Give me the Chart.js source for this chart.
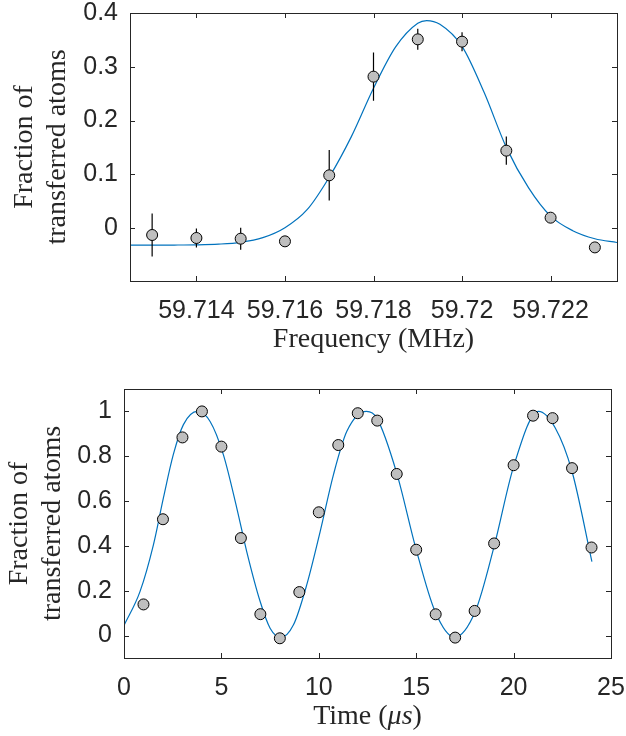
<!DOCTYPE html>
<html>
<head>
<meta charset="utf-8">
<script src="https://cdn.jsdelivr.net/npm/chart.js@4.4.0/dist/chart.umd.min.js"></script>
<style>
  html, body { margin: 0; padding: 0; background: #fff; }
  #wrap { position: relative; width: 626px; height: 736px; }
  canvas { position: absolute; left: 0; display: block; }
  #freqChart { top: 0; }
  #timeChart { top: 365px; }
</style>
</head>
<body>
<div id="wrap">
  <canvas id="freqChart" width="626" height="365"></canvas>
  <canvas id="timeChart" width="626" height="371"></canvas>
</div>
<script>
"use strict";

// top panel: frequency scan with error bars
const freqMHz = [59.713, 59.714, 59.715, 59.716, 59.717, 59.718, 59.719, 59.720, 59.721, 59.722, 59.723];
const freqFraction = [-0.013, -0.0186, -0.0199, -0.0248, 0.098, 0.2816, 0.351, 0.3467, 0.1439, 0.0192, -0.0361];
const freqError = [0.040, 0.0177, 0.0205, 0.006, 0.047, 0.0447, 0.0195, 0.0177, 0.0264, 0.006, 0.004];
const fitFreqMHz = [59.7125, 59.7130, 59.7135, 59.7140, 59.7145, 59.7150, 59.7155, 59.7160, 59.7165, 59.7170,
  59.7175, 59.7180, 59.7185, 59.7190, 59.7192, 59.7195, 59.7200, 59.7205, 59.7210, 59.7215,
  59.7220, 59.7225, 59.7230, 59.7235];
const fitFreqFraction = [-0.0318, -0.0318, -0.0317, -0.0313, -0.0300, -0.0266, -0.0180, 0.0005, 0.0340, 0.0945,
  0.1700, 0.2600, 0.3370, 0.3810, 0.3860, 0.3790, 0.3380, 0.2520, 0.1500, 0.0750,
  0.0220, -0.0050, -0.0200, -0.0270];
const freqTicks = [59.714, 59.716, 59.718, 59.72, 59.722];
const freqFractionTicks = [0, 0.1, 0.2, 0.3, 0.4];

// bottom panel: Rabi oscillation
const timeUs = [1, 2, 3, 4, 5, 6, 7, 8, 9, 10, 11, 12, 13, 14, 15, 16, 17, 18, 19, 20, 21, 22, 23, 24];
const timeFraction = [0.139, 0.519, 0.884, 1.0, 0.843, 0.435, 0.0955, -0.012, 0.194, 0.55, 0.85, 0.992,
  0.959, 0.721, 0.383, 0.095, -0.009, 0.11, 0.411, 0.76, 0.981, 0.97, 0.747, 0.393];
const fitTimeUs = [0, 0.82, 1.51, 2.02, 2.53, 3.05, 3.77, 4.42, 5.1, 5.79, 6.3, 6.99, 7.5, 8.05, 8.7,
  9.38, 10.07, 10.75, 11.44, 12.45, 12.98, 14.0, 14.98, 15.97, 16.97, 18.03, 19.02, 20.0,
  21.28, 22.14, 23.0, 24.02];
const fitTimeFraction = [0.045, 0.196, 0.405, 0.613, 0.807, 0.941, 1.0, 0.955, 0.807, 0.569, 0.375, 0.152,
  0.033, -0.008, 0.048, 0.226, 0.464, 0.717, 0.911, 1.0, 0.97, 0.725, 0.39, 0.107, -0.008,
  0.107, 0.405, 0.754, 1.0, 0.926, 0.732, 0.33];
const timeTicks = [0, 5, 10, 15, 20, 25];
const timeFractionTicks = [0, 0.2, 0.4, 0.6, 0.8, 1];

const yTitleLines = ["Fraction of", "transferred atoms"];

const TEXT = "#262626";
const SANS = "'Liberation Sans', Arial, Helvetica, sans-serif";
const SERIF = "'Liberation Serif', 'Times New Roman', serif";

function fmt(v) {
  return String(Number(v.toFixed(4)));
}

function toPoints(xs, ys) {
  return xs.map((x, i) => ({ x, y: ys[i] }));
}

// box around the plot with inward ticks on all four sides
const frameTicks = {
  id: "frameTicks",
  afterDraw(chart) {
    const { ctx, chartArea: a, scales: { x, y } } = chart;
    const len = 5;
    ctx.save();
    ctx.strokeStyle = TEXT;
    ctx.lineWidth = 1;
    ctx.beginPath();
    x.ticks.forEach(t => {
      const px = Math.round(x.getPixelForValue(t.value)) + 0.5;
      ctx.moveTo(px, a.bottom); ctx.lineTo(px, a.bottom - len);
      ctx.moveTo(px, a.top); ctx.lineTo(px, a.top + len);
    });
    y.ticks.forEach(t => {
      const py = Math.round(y.getPixelForValue(t.value)) + 0.5;
      ctx.moveTo(a.left, py); ctx.lineTo(a.left + len, py);
      ctx.moveTo(a.right, py); ctx.lineTo(a.right - len, py);
    });
    ctx.stroke();
    ctx.strokeRect(Math.round(a.left) + 0.5, Math.round(a.top) + 0.5,
      Math.round(a.right - a.left), Math.round(a.bottom - a.top));
    ctx.restore();
  }
};

// vertical error bars, drawn just before the marker dataset
const errorBars = {
  id: "errorBars",
  beforeDatasetDraw(chart, args) {
    const ds = chart.data.datasets[args.index];
    if (!ds.errors) return;
    const { ctx, scales: { x, y } } = chart;
    ctx.save();
    ctx.strokeStyle = "#000";
    ctx.lineWidth = 1.2;
    ctx.beginPath();
    ds.data.forEach((p, i) => {
      const px = x.getPixelForValue(p.x);
      ctx.moveTo(px, y.getPixelForValue(p.y - ds.errors[i]));
      ctx.lineTo(px, y.getPixelForValue(p.y + ds.errors[i]));
    });
    ctx.stroke();
    ctx.restore();
  }
};

// x axis title with mixed upright / italic parts
function makeXTitle(parts, lift) {
  return {
    id: "xTitle",
    afterDraw(chart) {
      const { ctx, chartArea: a, scales: { x } } = chart;
      ctx.save();
      ctx.fillStyle = TEXT;
      ctx.textBaseline = "alphabetic";
      ctx.textAlign = "left";
      const fonts = parts.map(p => `${p.italic ? "italic " : ""}28px ${SERIF}`);
      const widths = parts.map((p, i) => { ctx.font = fonts[i]; return ctx.measureText(p.text).width; });
      let cx = (a.left + a.right) / 2 - widths.reduce((s, w) => s + w, 0) / 2;
      const cy = x.bottom - lift;
      parts.forEach((p, i) => {
        ctx.font = fonts[i];
        ctx.fillText(p.text, cx, cy);
        cx += widths[i];
      });
      ctx.restore();
    }
  };
}

function makePanel(p) {
  const tickFont = { family: SANS, size: 25 };
  return new Chart(document.getElementById(p.canvas), {
    type: "scatter",
    data: {
      datasets: [
        {
          label: "data",
          data: toPoints(p.xs, p.ys),
          errors: p.errors,
          pointRadius: 5.5,
          pointBackgroundColor: "#bfbfbf",
          pointBorderColor: "#000",
          pointBorderWidth: 1
        },
        {
          label: "fit",
          type: "line",
          data: toPoints(p.fitX, p.fitY),
          borderColor: "#0072bd",
          borderWidth: 1.2,
          pointRadius: 0,
          cubicInterpolationMode: "monotone",
          fill: false
        }
      ]
    },
    options: {
      responsive: false,
      animation: false,
      events: [],
      layout: { padding: { top: p.padTop, right: p.padRight, left: 0, bottom: 0 } },
      plugins: { legend: { display: false }, tooltip: { enabled: false } },
      scales: {
        x: {
          type: "linear",
          min: p.xMin,
          max: p.xMax,
          afterBuildTicks: s => { s.ticks = p.xTicks.map(v => ({ value: v })); },
          afterFit: s => { s.height = p.xAxisHeight; s.paddingLeft = 0; s.paddingRight = 0; },
          grid: { display: false, drawTicks: false },
          border: { display: false },
          ticks: { autoSkip: false, maxRotation: 0, minRotation: 0, padding: p.xTickPad, color: TEXT, font: tickFont, callback: v => fmt(v) }
        },
        y: {
          type: "linear",
          min: p.yMin,
          max: p.yMax,
          afterBuildTicks: s => { s.ticks = p.yTicks.map(v => ({ value: v })); },
          afterFit: s => { s.width = p.yAxisWidth; s.paddingTop = 0; s.paddingBottom = 0; },
          grid: { display: false, drawTicks: false },
          border: { display: false },
          ticks: { autoSkip: false, padding: 12, color: TEXT, font: tickFont, callback: v => fmt(v) },
          title: {
            display: true,
            text: yTitleLines,
            color: TEXT,
            font: { family: SERIF, size: 28, lineHeight: 1.15 },
            padding: { top: p.yTitlePad, bottom: 0 }
          }
        }
      }
    },
    plugins: [errorBars, frameTicks, makeXTitle(p.xTitle, p.xTitleLift)]
  });
}

makePanel({
  canvas: "freqChart",
  xs: freqMHz, ys: freqFraction, errors: freqError,
  fitX: fitFreqMHz, fitY: fitFreqFraction,
  xMin: 59.7125, xMax: 59.7235, yMin: -0.0986, yMax: 0.4,
  xTicks: freqTicks, yTicks: freqFractionTicks,
  padTop: 13, padRight: 9, yAxisWidth: 130, xAxisHeight: 84,
  xTickPad: 15, yTitlePad: 9,
  xTitle: [{ text: "Frequency (MHz)" }], xTitleLift: 18
});

makePanel({
  canvas: "timeChart",
  xs: timeUs, ys: timeFraction, errors: null,
  fitX: fitTimeUs, fitY: fitTimeFraction,
  xMin: 0, xMax: 25, yMin: -0.1, yMax: 1.1,
  xTicks: timeTicks, yTicks: timeFractionTicks,
  padTop: 24, padRight: 15, yAxisWidth: 124, xAxisHeight: 78,
  xTickPad: 15, yTitlePad: 4,
  xTitle: [{ text: "Time (" }, { text: "\u03bcs", italic: true }, { text: ")" }], xTitleLift: 12
});
</script>
</body>
</html>
